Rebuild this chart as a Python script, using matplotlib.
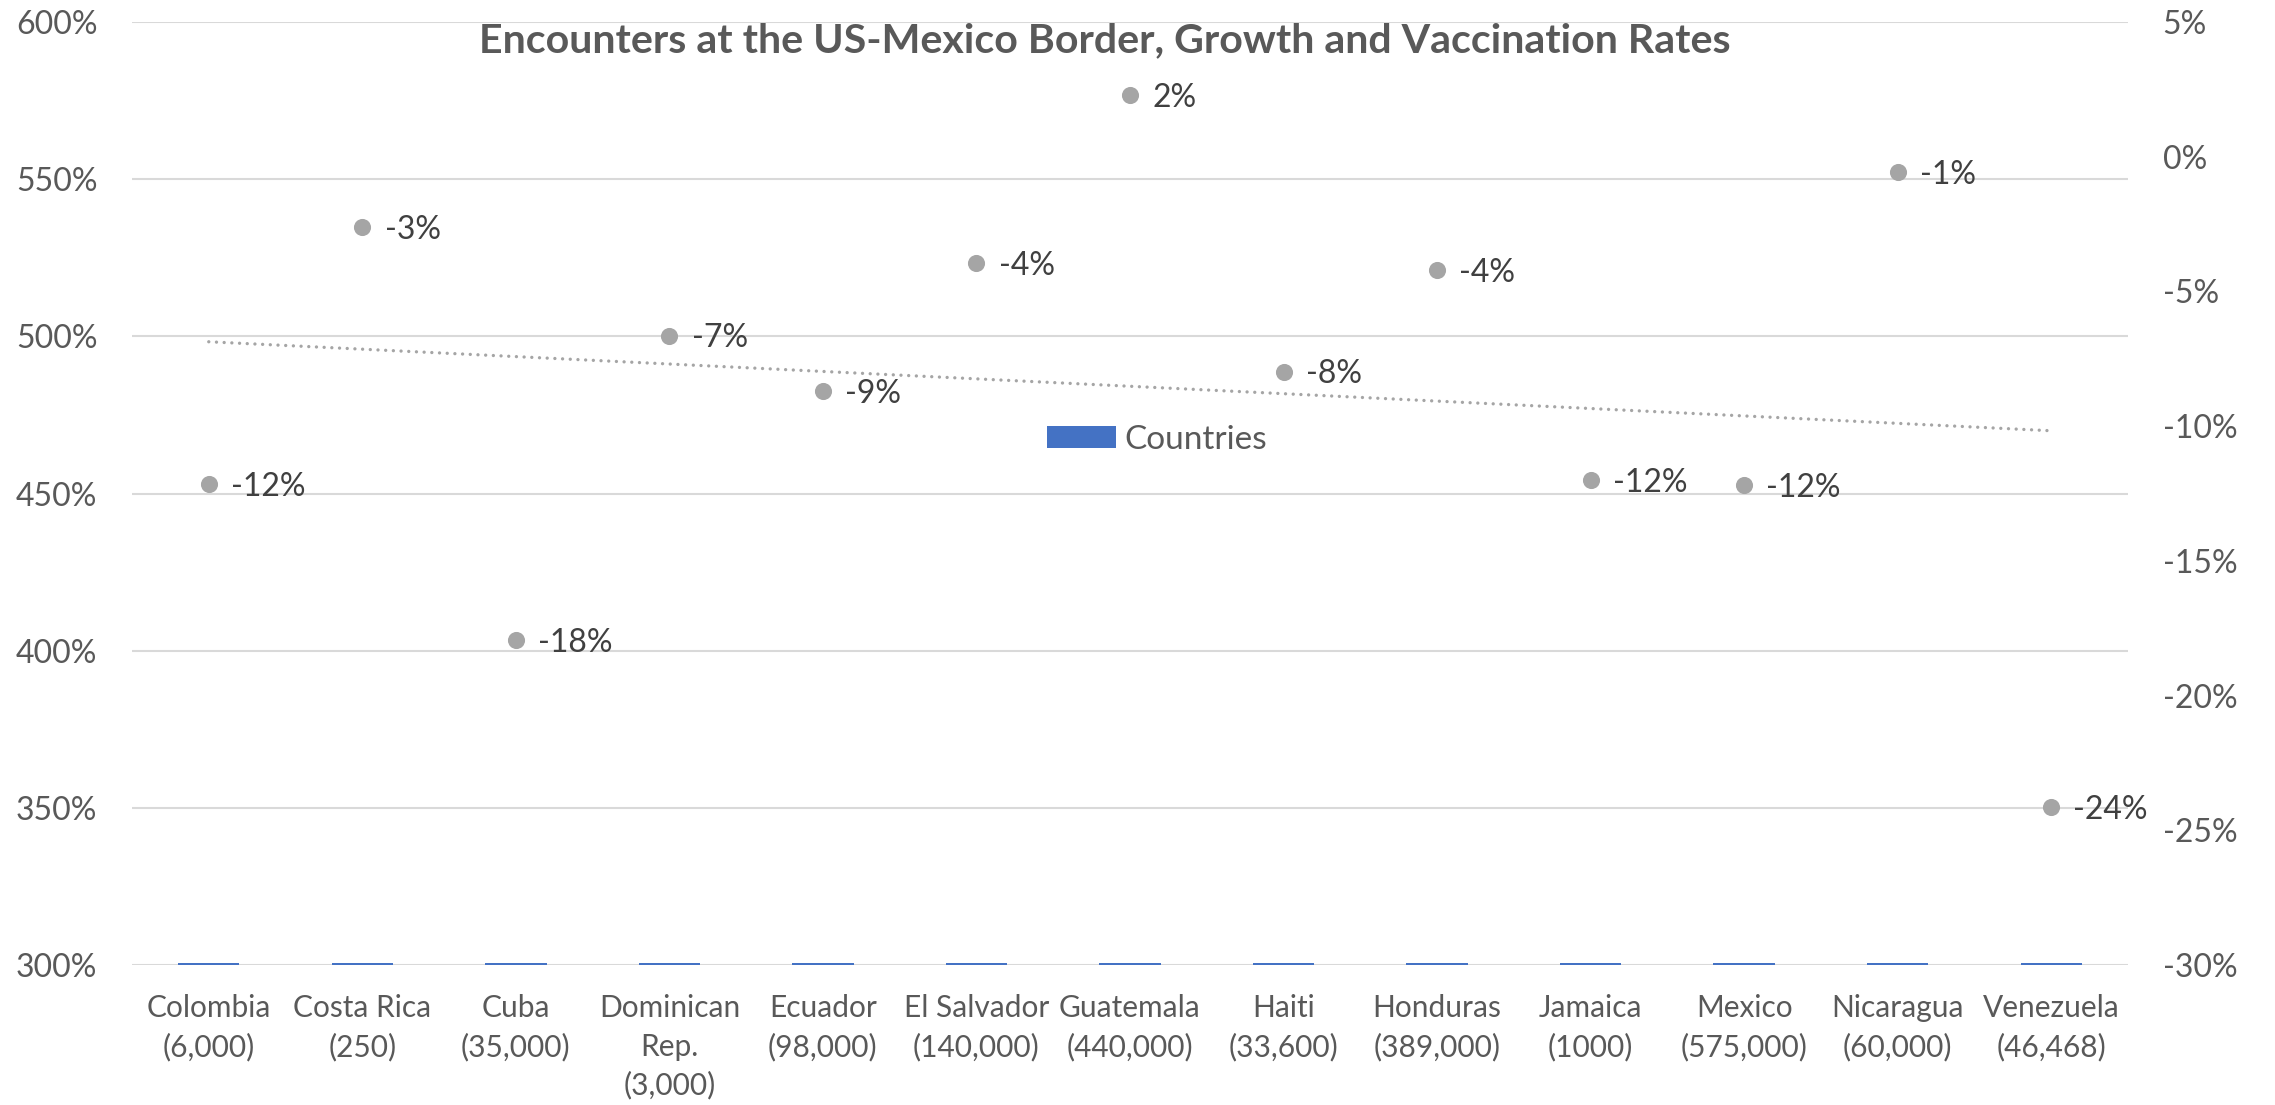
import matplotlib
matplotlib.use("Agg")
import matplotlib.pyplot as plt
import numpy as np

plt.rcParams['font.family'] = ['Lato', 'DejaVu Sans']

# ---- data ----
countries = ["Colombia\n(6,000)", "Costa Rica\n(250)", "Cuba\n(35,000)", "Dominican\nRep.\n(3,000)",
             "Ecuador\n(98,000)", "El Salvador\n(140,000)", "Guatemala\n(440,000)", "Haiti\n(33,600)",
             "Honduras\n(389,000)", "Jamaica\n(1000)", "Mexico\n(575,000)", "Nicaragua\n(60,000)",
             "Venezuela\n(46,468)"]
bar_values = [300.6] * 13          # "Countries" series (left axis, %), near the axis floor
rate_values = [-12.14, -2.6, -17.93, -6.64, -8.7, -3.95, 2.3, -7.98, -4.2, -12.0, -12.2, -0.57, -24.15]  # right axis, %
left_ticks = [300, 350, 400, 450, 500, 550, 600]
right_ticks = [-30, -25, -20, -15, -10, -5, 0, 5]
title = "Encounters at the US-Mexico Border, Growth and Vaccination Rates"

W, H = 2275, 1105
fig = plt.figure(figsize=(W / 100, H / 100), dpi=100)
ax = fig.add_axes([132 / W, 1 - 965 / H, (2128 - 132) / W, (965 - 22) / H])

x = np.arange(len(countries))
TXT = "#595959"
ax.set_axisbelow(True)
ax.grid(axis='y', color="#D9D9D9", lw=1.5)
ax.bar(x, bar_values, width=0.4, color="#4472C4", label="Countries", zorder=2)
ax.set_xlim(-0.5, len(countries) - 0.5)
ax.set_ylim(300, 600)
ax.set_yticks(left_ticks)
ax.set_yticklabels([f"{t}%" for t in left_ticks])
ax.set_xticks(x)
ax.set_xticklabels(countries, linespacing=1.45)
ax.tick_params(axis='y', length=0, pad=25, labelsize=23, labelcolor=TXT)
ax.tick_params(axis='x', length=0, pad=21, labelsize=21.5, labelcolor=TXT)
for s in ax.spines.values():
    s.set_visible(False)

ax2 = ax.twinx()
ax2.set_ylim(-30, 5)
ax2.set_yticks(right_ticks)
ax2.set_yticklabels([f"{t}%" for t in right_ticks])
ax2.tick_params(axis='y', length=0, pad=25, labelsize=23, labelcolor=TXT)
for s in ax2.spines.values():
    s.set_visible(False)

ax2.plot(x, rate_values, 'o', ms=11.3, color="#A5A5A5", zorder=3)
for xi, v in zip(x, rate_values):
    ax2.annotate(f"{round(v):.0f}%", (xi, v), xytext=(16, -2), textcoords='offset points',
                 va='center', ha='left', fontsize=23, color="#404040")

coef = np.polyfit(x, rate_values, 1)
ax2.plot(x[[0, -1]], np.polyval(coef, x[[0, -1]]), color="#A5A5A5", lw=2.4,
         linestyle=(0, (0.01, 2.3)), dash_capstyle='round', zorder=3)

fig.text(1105 / W, 1 - 52 / H, title, ha='center', va='baseline', fontsize=29.6,
         fontweight='bold', color=TXT)

h, l = ax.get_legend_handles_labels()
fig.legend(h, l, loc='center', bbox_to_anchor=(1157 / W, 1 - 440 / H), frameon=False,
           fontsize=24, handlelength=2.05, handleheight=0.64, handletextpad=0.25,
           labelcolor=TXT, borderpad=0)

fig.savefig("out.png", dpi=100, facecolor="white")
